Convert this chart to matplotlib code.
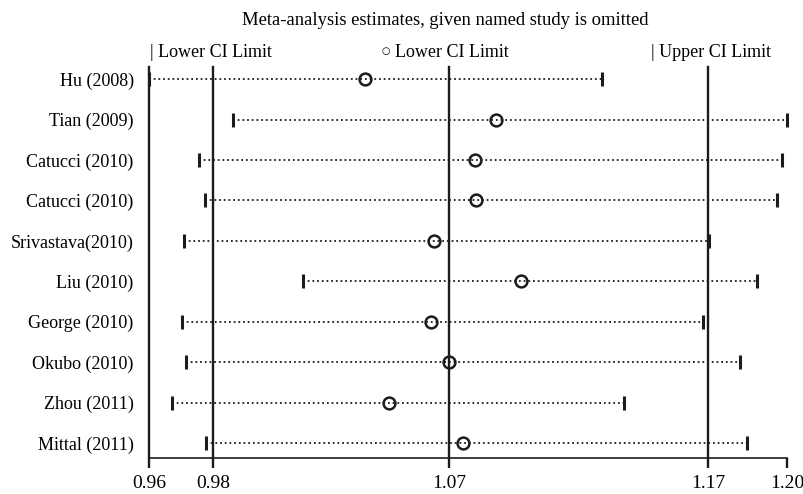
import matplotlib
matplotlib.use("Agg")
import matplotlib.pyplot as plt

studies = ["Hu (2008)", "Tian (2009)", "Catucci (2010)", "Catucci (2010)",
           "Srivastava(2010)", "Liu (2010)", "George (2010)", "Okubo (2010)",
           "Zhou (2011)", "Mittal (2011)"]
lower = [0.9600, 0.9916, 0.9788, 0.9811, 0.9732, 1.0179, 0.9724, 0.9739, 0.9687, 0.9814]
estimate = [1.0413, 1.0905, 1.0826, 1.0830, 1.0672, 1.1000, 1.0661, 1.0729, 1.0503, 1.0781]
upper = [1.1304, 1.2000, 1.1981, 1.1963, 1.1707, 1.1887, 1.1684, 1.1823, 1.1387, 1.1850]

# overall: min, lower CI, estimate, upper CI
ref_lines = [0.9600, 0.9841, 1.0729, 1.1703]
tick_vals = [0.9600, 0.9841, 1.0729, 1.1703, 1.2000]
tick_labels = ["0.96", "0.98", "1.07", "1.17", "1.20"]

plt.rcParams["font.family"] = ["Liberation Serif", "DejaVu Serif"]
dark = "#1c1c1c"

fig = plt.figure(figsize=(8.04, 4.94), dpi=100)
ax = fig.add_axes([149 / 804, 36 / 494, 638 / 804, 391 / 494])

rows = list(range(len(studies)))
for y, lo, hi in zip(rows, lower, upper):
    ax.plot([lo, hi], [y, y], color=dark, lw=1.3, ls=(0, (1, 1.6)), zorder=2)
ax.plot(lower, rows, ls="none", marker="|", ms=10, mew=2.2, color=dark, zorder=3, clip_on=False)
ax.plot(upper, rows, ls="none", marker="|", ms=10, mew=2.2, color=dark, zorder=3, clip_on=False)
ax.plot(estimate, rows, ls="none", marker="o", ms=8.5, mew=1.8,
        mfc="none", mec=dark, zorder=4)

for v in ref_lines:
    ax.axvline(v, color=dark, lw=1.7, zorder=1, clip_on=False)

ax.set_xlim(0.96, 1.20)
ax.set_ylim(9.37, -0.3)
ax.set_yticks(rows)
ax.set_yticklabels(studies, fontsize=13)
ax.tick_params(axis="y", length=0, pad=11)
ax.set_xticks(tick_vals)
ax.set_xticklabels(tick_labels, fontsize=14)
ax.tick_params(axis="x", length=7, width=1.7, color=dark, pad=5)
for s in ["left", "right", "top"]:
    ax.spines[s].set_visible(False)
ax.spines["bottom"].set_color(dark)
ax.spines["bottom"].set_linewidth(1.2)

fig.text(445 / 804, 1 - 25 / 494, "Meta-analysis estimates, given named study is omitted",
         ha="center", va="baseline", fontsize=13.4)
fig.text(150 / 804, 1 - 57 / 494, "| Lower CI Limit", ha="left", va="baseline", fontsize=13)
fig.text(386 / 804, 1 - 51 / 494, "\u25cb", ha="center", va="center", fontsize=7,
         family=["DejaVu Sans"])
fig.text(395 / 804, 1 - 57 / 494, "Lower CI Limit", ha="left", va="baseline", fontsize=13)
fig.text(771 / 804, 1 - 57 / 494, "| Upper CI Limit", ha="right", va="baseline", fontsize=13)

fig.savefig("out.png", dpi=100)
